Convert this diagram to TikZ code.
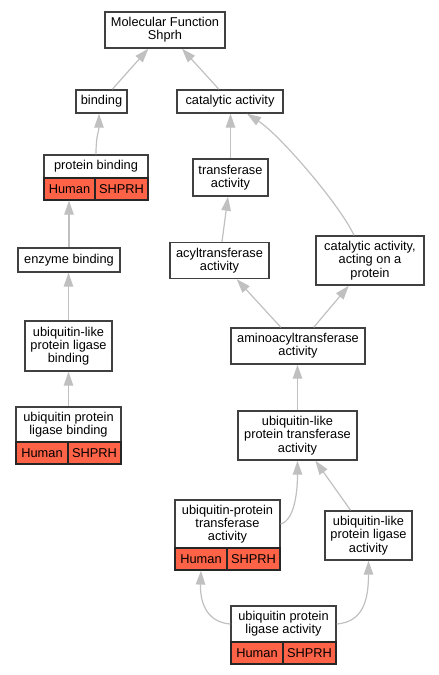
\documentclass[tikz,border=0pt]{standalone}
\usepackage{fontspec}
\setmainfont{Liberation Sans}
\usetikzlibrary{arrows.meta}
\definecolor{boxline}{HTML}{404040}
\definecolor{edgecol}{HTML}{C0C0C0}
\definecolor{tomatofill}{HTML}{FF6347}
\begin{document}
\begin{tikzpicture}[x=1pt,y=-1pt,
  txt/.style={font=\fontsize{12.8}{13.2}\selectfont},
  box/.style={txt,draw=boxline,line width=1.4pt,fill=white,inner sep=0pt,align=center},
  cell/.style={txt,draw=black!85,line width=1.2pt,fill=tomatofill,inner sep=0pt,minimum height=22pt},
  edge/.style={draw=edgecol,line width=1.2pt,-{Triangle[length=14pt,width=9.5pt,fill=edgecol]}}]
\useasboundingbox (0,0) rectangle (439,675);
% nodes
\node[box,minimum width=120pt,minimum height=36pt] (mf) at (165,30) {Molecular Function\\Shprh};
\node[box,minimum width=51pt,minimum height=23pt] (bind) at (101.5,101.5) {binding};
\node[box,minimum width=106pt,minimum height=23pt] (cat) at (230,101.5) {catalytic activity};
\node[box,minimum width=104pt,minimum height=23pt] (pb) at (96,166.5) {protein binding};
\node[cell,minimum width=51pt] (pbH) at (69.5,189) {Human};
\node[cell,minimum width=53pt] (pbS) at (121.5,189) {SHPRH};
\node[box,minimum width=75pt,minimum height=37pt] (trans) at (230.5,177.5) {transferase\\activity};
\node[box,minimum width=102pt,minimum height=24pt] (enz) at (69,260) {enzyme binding};
\node[box,minimum width=99pt,minimum height=36pt] (acyl) at (219.5,260.5) {acyltransferase\\activity};
\node[box,minimum width=108pt,minimum height=49pt] (caop) at (370,260.5) {catalytic activity,\\acting on a\\protein};
\node[box,minimum width=87pt,minimum height=50pt] (ulplb) at (68.5,346) {ubiquitin-like\\protein ligase\\binding};
\node[box,minimum width=134pt,minimum height=36pt] (amino) at (298,346) {aminoacyltransferase\\activity};
\node[box,minimum width=105pt,minimum height=35pt] (uplb) at (68.5,424.5) {ubiquitin protein\\ligase binding};
\node[cell,minimum width=52pt] (uplbH) at (42,453) {Human};
\node[cell,minimum width=53pt] (uplbS) at (94.5,453) {SHPRH};
\node[box,minimum width=119pt,minimum height=49pt] (ulpta) at (297.5,435.5) {ubiquitin-like\\protein transferase\\activity};
\node[box,minimum width=105pt,minimum height=48pt] (upta) at (227.5,524) {ubiquitin-protein\\transferase\\activity};
\node[cell,minimum width=52pt] (uptaH) at (201,559) {Human};
\node[cell,minimum width=53pt] (uptaS) at (253.5,559) {SHPRH};
\node[box,minimum width=87pt,minimum height=49pt] (ulpla) at (368.5,535.5) {ubiquitin-like\\protein ligase\\activity};
\node[box,minimum width=105pt,minimum height=36pt] (upla) at (283.5,624) {ubiquitin protein\\ligase activity};
\node[cell,minimum width=52pt] (uplaH) at (257,653) {Human};
\node[cell,minimum width=53pt] (uplaS) at (309.5,653) {SHPRH};
% edges
\draw[edge] (bind) -- (mf);
\draw[edge] (cat) -- (mf);
\draw[edge] (pb.north) .. controls +(0,-20) and +(0,18) .. ([xshift=-2.5pt]bind.south);
\draw[edge] (trans.north) -- (trans.north |- cat.south);
\draw[edge] ([xshift=-16pt]caop.north) .. controls (340,205) and (280,135) .. ([xshift=17pt]cat.south);
\draw[edge] (enz.north) -- (enz.north |- pbH.south);
\draw[edge] (acyl) -- (trans);
\draw[edge] (ulplb.north) -- (ulplb.north |- enz.south);
\draw[edge] (amino) -- (acyl);
\draw[edge] (amino) -- (caop);
\draw[edge] (uplb.north) -- (uplb.north |- ulplb.south);
\draw[edge] (ulpta.north) -- (ulpta.north |- amino.south);
\draw[edge] (upta.east) .. controls (295,520) and (297.5,490) .. (ulpta.south);
\draw[edge] (ulpla) -- (ulpta);
\draw[edge] (upla.west) .. controls (205,622) and (200,600) .. (uptaH.south);
\draw[edge] (upla.east) .. controls (363,622) and (368.5,600) .. (ulpla.south);
\end{tikzpicture}
\end{document}
